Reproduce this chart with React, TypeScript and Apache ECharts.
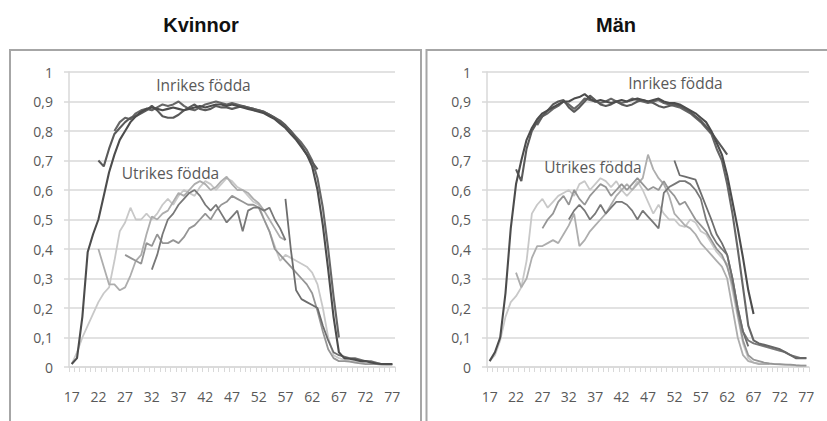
import React, { useEffect, useRef } from "react";
import * as echarts from "echarts";

// ---- categories (age) ----
const AGES: string[] = [];
for (let a = 17; a <= 77; a++) AGES.push(String(a));
const FIRST_AGE = 17;

const PANEL_TITLES = ["Kvinnor", "Män"];
const LABEL_INRIKES = "Inrikes födda";
const LABEL_UTRIKES = "Utrikes födda";

// ---- Kvinnor: inrikes födda ----
const K_INR_1_START = 17;
const K_INR_1 = [
  0.01, 0.03, 0.17, 0.39, 0.45, 0.5, 0.58, 0.66, 0.72, 0.77,
  0.8, 0.83, 0.85, 0.865, 0.875, 0.88, 0.875, 0.87, 0.875, 0.88,
  0.875, 0.87, 0.875, 0.88, 0.885, 0.88, 0.885, 0.89, 0.89, 0.885,
  0.89, 0.885, 0.88, 0.875, 0.87, 0.865, 0.86, 0.85,
  0.84, 0.825, 0.81, 0.79, 0.77, 0.745, 0.72, 0.68, 0.6, 0.48,
  0.33, 0.17, 0.05, 0.03, 0.028, 0.025, 0.02, 0.02, 0.015, 0.012, 0.01, 0.01, 0.01,
];
const K_INR_2_START = 22;
const K_INR_2 = [
  0.7, 0.68, 0.74, 0.79, 0.81, 0.83, 0.845, 0.85, 0.86, 0.87,
  0.885, 0.87, 0.85, 0.845, 0.845, 0.855, 0.87, 0.88, 0.89, 0.875,
  0.87, 0.875, 0.885, 0.88, 0.88, 0.875, 0.88, 0.885, 0.88, 0.875,
  0.87, 0.865, 0.855, 0.845, 0.835, 0.82, 0.8, 0.775, 0.75, 0.72, 0.695, 0.67,
];
const K_INR_3_START = 25;
const K_INR_3 = [
  0.8, 0.83, 0.845, 0.84, 0.86, 0.87, 0.875, 0.87, 0.88, 0.89,
  0.885, 0.89, 0.9, 0.885, 0.875, 0.87, 0.88, 0.89, 0.895, 0.9,
  0.895, 0.89, 0.895, 0.89, 0.885, 0.88, 0.875, 0.87, 0.865, 0.855,
  0.845, 0.83, 0.815, 0.8, 0.78, 0.76, 0.735, 0.7, 0.64, 0.54, 0.4, 0.24, 0.1,
];

// ---- Kvinnor: utrikes födda ----
const K_UTR_1_START = 17;
const K_UTR_1 = [
  0.01, 0.05, 0.1, 0.14, 0.18, 0.22, 0.25, 0.27, 0.36, 0.46,
  0.49, 0.54, 0.5, 0.5, 0.52, 0.5, 0.52, 0.55, 0.57, 0.55,
  0.58, 0.6, 0.59, 0.58, 0.61, 0.63, 0.62, 0.6, 0.62, 0.64,
  0.63, 0.61, 0.6, 0.58, 0.56, 0.55, 0.5, 0.46, 0.41, 0.36,
  0.38, 0.37, 0.36, 0.35, 0.34, 0.32, 0.28, 0.2, 0.1, 0.04,
  0.03, 0.025, 0.02, 0.02, 0.018, 0.015, 0.012, 0.01, 0.01, 0.008, 0.008,
];
const K_UTR_2_START = 22;
const K_UTR_2 = [
  0.4, 0.34, 0.28, 0.28, 0.26, 0.27, 0.31, 0.36, 0.38, 0.45,
  0.51, 0.5, 0.52, 0.53, 0.56, 0.59, 0.58, 0.6, 0.62, 0.63,
  0.62, 0.6, 0.61, 0.63, 0.645, 0.62, 0.6, 0.6, 0.59, 0.57,
  0.555, 0.53, 0.5, 0.47, 0.44, 0.43,
];
const K_UTR_3_START = 27;
const K_UTR_3 = [
  0.38, 0.37, 0.36, 0.35, 0.42, 0.41, 0.45, 0.42, 0.42, 0.43,
  0.42, 0.44, 0.47, 0.48, 0.5, 0.52, 0.5, 0.53, 0.55, 0.56,
  0.58, 0.57, 0.56, 0.55, 0.55, 0.54, 0.5, 0.46, 0.4, 0.38,
  0.36, 0.34, 0.32, 0.3, 0.28, 0.25, 0.19, 0.12, 0.06, 0.03,
  0.02, 0.02, 0.018, 0.015, 0.012, 0.01, 0.01, 0.01, 0.008, 0.008, 0.008,
];
const K_UTR_4_START = 32;
const K_UTR_4 = [
  0.33, 0.38, 0.45, 0.5, 0.52, 0.55, 0.57, 0.59, 0.6, 0.58,
  0.55, 0.53, 0.55, 0.52, 0.49, 0.51, 0.53, 0.46, 0.53, 0.54,
  0.54, 0.53, 0.54, 0.5, 0.47, 0.43,
];
const K_UTR_5_START = 57;
const K_UTR_5 = [
  0.57, 0.4, 0.26, 0.23, 0.22, 0.21, 0.2, 0.14, 0.09, 0.05,
  0.04, 0.035, 0.03, 0.03, 0.025, 0.02, 0.02, 0.015, 0.01, 0.01, 0.01,
];

// ---- Män: inrikes födda ----
const M_INR_1_START = 17;
const M_INR_1 = [
  0.02, 0.05, 0.1, 0.25, 0.47, 0.62, 0.7, 0.77, 0.81, 0.84,
  0.86, 0.87, 0.88, 0.89, 0.9, 0.9, 0.91, 0.915, 0.925, 0.91,
  0.9, 0.905, 0.9, 0.895, 0.9, 0.905, 0.9, 0.905, 0.91, 0.905,
  0.9, 0.905, 0.91, 0.9, 0.895, 0.895, 0.89, 0.88, 0.87, 0.86,
  0.845, 0.83, 0.8, 0.76, 0.72, 0.65, 0.56, 0.47, 0.37, 0.26, 0.18,
];
const M_INR_2_START = 22;
const M_INR_2 = [
  0.67, 0.63, 0.74, 0.8, 0.83, 0.85, 0.87, 0.89, 0.9, 0.905,
  0.88, 0.865, 0.88, 0.9, 0.92, 0.905, 0.89, 0.885, 0.89, 0.9,
  0.89, 0.885, 0.89, 0.9, 0.905, 0.9, 0.895, 0.885, 0.88, 0.885,
  0.89, 0.885, 0.875, 0.865, 0.85, 0.835, 0.815, 0.795, 0.77, 0.745, 0.72,
];
const M_INR_3_START = 26;
const M_INR_3 = [
  0.82, 0.85, 0.86, 0.875, 0.885, 0.9, 0.89, 0.875, 0.89, 0.91,
  0.905, 0.9, 0.895, 0.9, 0.91, 0.9, 0.895, 0.9, 0.91, 0.905,
  0.9, 0.895, 0.9, 0.905, 0.895, 0.89, 0.885, 0.88, 0.87, 0.86,
  0.845, 0.83, 0.81, 0.79, 0.74, 0.7, 0.62, 0.52, 0.4, 0.27,
  0.14, 0.09, 0.08, 0.075, 0.07, 0.065, 0.06, 0.05, 0.04, 0.03, 0.03, 0.03,
];

// ---- Män: utrikes födda ----
const M_UTR_1_START = 17;
const M_UTR_1 = [
  0.02, 0.04, 0.09, 0.17, 0.22, 0.24, 0.27, 0.36, 0.52, 0.55,
  0.57, 0.54, 0.56, 0.58, 0.59, 0.6, 0.58, 0.62, 0.63, 0.6,
  0.62, 0.64, 0.63, 0.61, 0.63, 0.6, 0.58, 0.6, 0.63, 0.6,
  0.56, 0.52, 0.55, 0.52, 0.5, 0.5, 0.48, 0.475, 0.5, 0.49,
  0.46, 0.45, 0.42, 0.39, 0.37, 0.35, 0.26, 0.17, 0.08, 0.03,
  0.015, 0.012, 0.01, 0.01, 0.01, 0.008, 0.008, 0.006, 0.005, 0.005, 0.005,
];
const M_UTR_2_START = 22;
const M_UTR_2 = [
  0.32, 0.27, 0.3, 0.37, 0.41, 0.41, 0.42, 0.43, 0.42, 0.45,
  0.48, 0.52, 0.41, 0.43, 0.46, 0.48, 0.5, 0.52, 0.55, 0.58,
  0.6, 0.62, 0.6, 0.62, 0.64, 0.72, 0.67, 0.64, 0.62, 0.58,
  0.52, 0.5, 0.48, 0.47, 0.45, 0.42, 0.4, 0.38, 0.36, 0.34,
  0.3, 0.2, 0.1, 0.04, 0.02, 0.015, 0.01, 0.01, 0.01,
];
const M_UTR_3_START = 27;
const M_UTR_3 = [
  0.47, 0.5, 0.52, 0.56, 0.58, 0.55, 0.6, 0.57, 0.55, 0.58,
  0.6, 0.62, 0.61, 0.58, 0.6, 0.62, 0.6, 0.62, 0.64, 0.62,
  0.6, 0.61, 0.6, 0.63, 0.6, 0.58, 0.55, 0.56, 0.53, 0.5,
  0.48, 0.46, 0.43, 0.4, 0.38, 0.34, 0.28, 0.18, 0.09, 0.04,
  0.025, 0.02, 0.015, 0.012, 0.01, 0.01, 0.008, 0.008, 0.006, 0.005, 0.005,
];
const M_UTR_4_START = 32;
const M_UTR_4 = [
  0.5, 0.53, 0.55, 0.53, 0.5, 0.52, 0.55, 0.52, 0.54, 0.56,
  0.56, 0.55, 0.53, 0.5, 0.53, 0.51, 0.49, 0.47, 0.59, 0.61,
  0.62, 0.63, 0.63, 0.62, 0.6, 0.57, 0.5, 0.45, 0.42, 0.4,
  0.38, 0.3, 0.2, 0.12, 0.09, 0.08, 0.075, 0.07, 0.065, 0.06,
  0.055, 0.05, 0.04, 0.035, 0.03, 0.03,
];
const M_UTR_5_START = 52;
const M_UTR_5 = [
  0.7, 0.65, 0.645, 0.64, 0.635, 0.59, 0.545, 0.5, 0.45, 0.42,
  0.38, 0.3, 0.2, 0.12, 0.07,
];

// ---- styles ----
const UTR_COLORS = ["#c8c8c8", "#adadad", "#959595", "#787878", "#6d6d6d"];
const INR_COLORS = ["#4c4c4c", "#5a5a5a", "#666666"];
const GRID_COLOR = "#d9d9d9";
const TEXT_COLOR = "#595959";
const FONT = "'Open Sans', 'DejaVu Sans', sans-serif";

function pad(start: number, vals: number[]): (number | null)[] {
  const out: (number | null)[] = AGES.map(() => null);
  vals.forEach((v, i) => {
    out[start - FIRST_AGE + i] = v;
  });
  return out;
}

const PANELS = [
  {
    utr: [
      [K_UTR_1_START, K_UTR_1],
      [K_UTR_2_START, K_UTR_2],
      [K_UTR_3_START, K_UTR_3],
      [K_UTR_4_START, K_UTR_4],
      [K_UTR_5_START, K_UTR_5],
    ],
    inr: [
      [K_INR_3_START, K_INR_3],
      [K_INR_2_START, K_INR_2],
      [K_INR_1_START, K_INR_1],
    ],
  },
  {
    utr: [
      [M_UTR_1_START, M_UTR_1],
      [M_UTR_2_START, M_UTR_2],
      [M_UTR_3_START, M_UTR_3],
      [M_UTR_4_START, M_UTR_4],
      [M_UTR_5_START, M_UTR_5],
    ],
    inr: [
      [M_INR_3_START, M_INR_3],
      [M_INR_2_START, M_INR_2],
      [M_INR_1_START, M_INR_1],
    ],
  },
] as { utr: [number, number[]][]; inr: [number, number[]][] }[];

function buildOption(): any {
  const grids = [
    { left: 69, top: 72, width: 326, height: 295 },
    { left: 487, top: 72, width: 322, height: 295 },
  ];
  const xAxis = grids.map((_, p) => ({
    gridIndex: p,
    type: "category",
    data: AGES,
    boundaryGap: true,
    axisLine: { show: true, lineStyle: { color: GRID_COLOR, width: 1.5 } },
    axisTick: { show: true, interval: 0, length: 5, lineStyle: { color: GRID_COLOR, width: 1 } },
    axisLabel: { interval: 4, margin: 22, color: TEXT_COLOR, fontSize: 14, fontFamily: FONT },
    splitLine: { show: false },
  }));
  const yAxis = grids.map((_, p) => ({
    gridIndex: p,
    type: "value",
    min: 0,
    max: 1,
    interval: 0.1,
    axisLine: { show: true, lineStyle: { color: GRID_COLOR, width: 1.5 } },
    axisTick: { show: true, length: 5, lineStyle: { color: GRID_COLOR, width: 1.5 } },
    splitLine: { show: true, lineStyle: { color: GRID_COLOR, width: 1.5 } },
    axisLabel: {
      margin: 16,
      color: TEXT_COLOR,
      fontSize: 14,
      fontFamily: FONT,
      formatter: (v: number) => String(Math.round(v * 10) / 10).replace(".", ","),
    },
  }));
  const series: any[] = [];
  PANELS.forEach((panel, p) => {
    panel.utr.forEach(([start, vals], i) => {
      series.push({
        type: "line",
        xAxisIndex: p,
        yAxisIndex: p,
        data: pad(start, vals),
        symbol: "none",
        silent: true,
        connectNulls: false,
        lineStyle: { color: UTR_COLORS[i], width: 1.8 },
        itemStyle: { color: UTR_COLORS[i] },
        z: 2 + i,
      });
    });
    panel.inr.forEach(([start, vals], i) => {
      series.push({
        type: "line",
        xAxisIndex: p,
        yAxisIndex: p,
        data: pad(start, vals),
        symbol: "none",
        silent: true,
        connectNulls: false,
        lineStyle: { color: INR_COLORS[2 - i], width: 2.1 },
        itemStyle: { color: INR_COLORS[2 - i] },
        z: 10 + i,
      });
    });
  });

  const textStyle = (x: number, y: number, text: string) => ({
    type: "text",
    x,
    y,
    silent: true,
    z: 50,
    style: {
      text,
      fill: TEXT_COLOR,
      font: `15.5px ${FONT}`,
      align: "center",
      verticalAlign: "middle",
    },
  });

  const graphic = [
    {
      type: "rect",
      shape: { x: 10, y: 50, width: 411, height: 420 },
      style: { fill: "none", stroke: "#a6a6a6", lineWidth: 2 },
      silent: true,
      z: 0,
    },
    {
      type: "rect",
      shape: { x: 426.5, y: 50, width: 430, height: 420 },
      style: { fill: "none", stroke: "#a6a6a6", lineWidth: 2 },
      silent: true,
      z: 0,
    },
    {
      type: "text",
      x: 201,
      y: 25,
      style: {
        text: PANEL_TITLES[0],
        fill: "#111111",
        font: "bold 20px 'Liberation Sans', Arial, sans-serif",
        align: "center",
        verticalAlign: "middle",
      },
    },
    {
      type: "text",
      x: 616,
      y: 25,
      style: {
        text: PANEL_TITLES[1],
        fill: "#111111",
        font: "bold 20px 'Liberation Sans', Arial, sans-serif",
        align: "center",
        verticalAlign: "middle",
      },
    },
    textStyle(203.5, 85, LABEL_INRIKES),
    textStyle(170.5, 173, LABEL_UTRIKES),
    textStyle(675.5, 83, LABEL_INRIKES),
    textStyle(593, 167, LABEL_UTRIKES),
  ];

  return {
    animation: false,
    backgroundColor: "#ffffff",
    grid: grids,
    xAxis,
    yAxis,
    series,
    graphic,
  };
}

export default function App() {
  const ref = useRef<HTMLDivElement>(null);
  useEffect(() => {
    document.body.style.margin = "0";
    if (!ref.current) return;
    const chart = echarts.init(ref.current, undefined, { renderer: "svg" });
    chart.setOption(buildOption());
    return () => chart.dispose();
  }, []);
  return (
    <div
      ref={ref}
      style={{ position: "absolute", left: 0, top: 0, width: 827, height: 421, background: "#fff" }}
    />
  );
}
